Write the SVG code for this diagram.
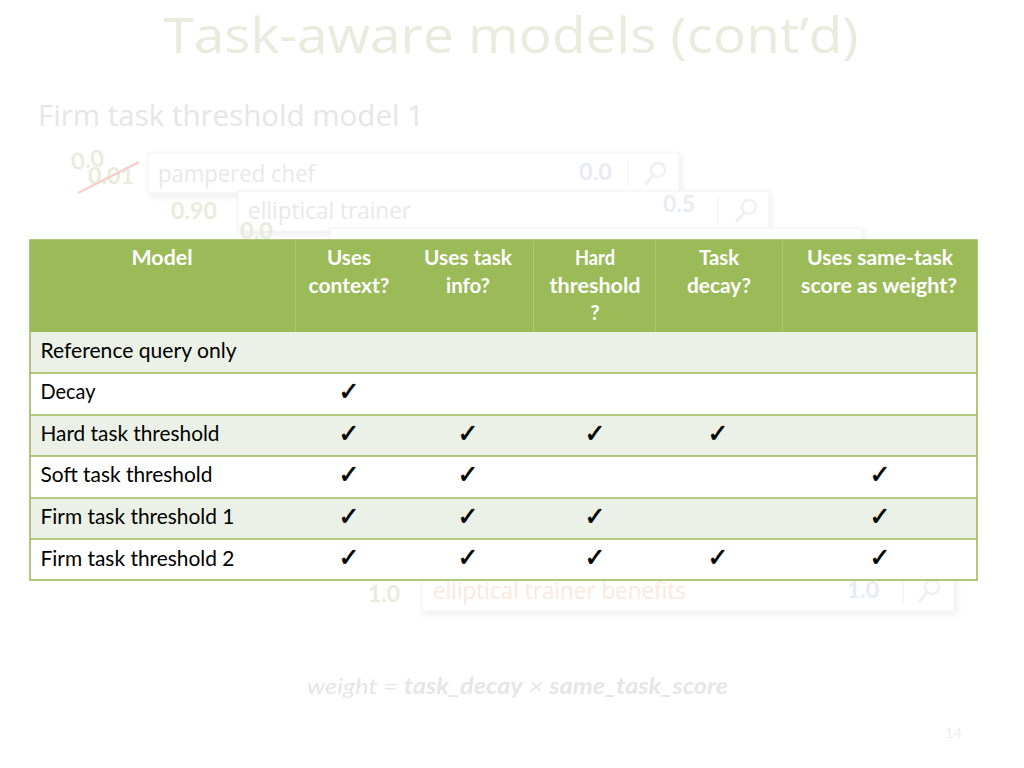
<svg xmlns="http://www.w3.org/2000/svg" width="1024" height="768" viewBox="0 0 1024 768">
<defs>
<filter id="sh" x="-5%" y="-20%" width="110%" height="150%"><feDropShadow dx="2" dy="3" stdDeviation="3" flood-color="#000" flood-opacity="0.07"/></filter>
<g id="mag"><path d="M-11 13L-3 4" stroke="#f0f0f0" stroke-width="3" fill="none"/><circle cx="2" cy="-2" r="7" fill="none" stroke="#f0f0f0" stroke-width="2.4"/></g>
</defs>
<style>
text{font-family:Lato,"Open Sans",sans-serif}
.box{fill:#fff;stroke:#f3f3f3;stroke-width:1.2;filter:url(#sh)}
.q{font-size:23px;fill:#e9e9e9;font-family:"Open Sans",sans-serif}
.w{font-size:23px;font-weight:700;fill:#e9ecdc}
.s{font-size:23px;font-weight:700;fill:#e6ebf5}
.sep{stroke:#f1f1f1;stroke-width:1.2}
.h{font-size:20.5px;font-weight:700;fill:#fff;text-anchor:middle}
.c{font-size:20.5px;fill:#000}
.k{font-family:"DejaVu Sans",sans-serif;font-size:25px;font-weight:700;fill:#000;stroke:#000;stroke-width:.7;text-anchor:middle}
.vl{stroke:#aec77c;stroke-width:1}
.hl{stroke:#9bbb59;stroke-width:1.6}
</style>
<rect width="1024" height="768" fill="#fff"/>
<text x="511" y="53" font-size="50" fill="#e9ebdd" text-anchor="middle" textLength="695" lengthAdjust="spacingAndGlyphs" style="font-family:'Open Sans',sans-serif">Task-aware models (cont’d)</text>
<text x="38" y="126" font-size="29" fill="#e6e6e6" textLength="386" lengthAdjust="spacingAndGlyphs" style="font-family:'Open Sans',sans-serif">Firm task threshold model 1</text>

<g id="query-1">
<rect class="box" x="148" y="153" width="531" height="40"/>
<text class="q" x="158" y="182" textLength="157" lengthAdjust="spacingAndGlyphs">pampered chef</text>
<text class="s" x="579" y="180" textLength="33" lengthAdjust="spacingAndGlyphs">0.0</text>
<line class="sep" x1="628" y1="160" x2="628" y2="185"/>
<use href="#mag" x="656" y="172"/>
<text class="w" x="71" y="168" textLength="33" lengthAdjust="spacingAndGlyphs" transform="rotate(-8 87 160)">0.0</text>
<text class="w" x="88" y="184" textLength="46" lengthAdjust="spacingAndGlyphs">0.01</text>
<line x1="78" y1="193" x2="139" y2="162" stroke="#f6cfcc" stroke-width="2.5"/>
</g>
<g id="query-2">
<rect class="box" x="238" y="191" width="531" height="40"/>
<text class="q" x="248" y="219" textLength="163" lengthAdjust="spacingAndGlyphs">elliptical trainer</text>
<text class="s" x="663" y="212" textLength="32" lengthAdjust="spacingAndGlyphs">0.5</text>
<line class="sep" x1="718" y1="198" x2="718" y2="223"/>
<use href="#mag" x="747" y="209"/>
<text class="w" x="171" y="219" textLength="46" lengthAdjust="spacingAndGlyphs">0.90</text>
</g>
<g id="query-3">
<text class="w" x="240" y="239" textLength="33" lengthAdjust="spacingAndGlyphs">0.0</text>
<rect class="box" x="330" y="228" width="532" height="30"/>
</g>
<g id="query-4">
<rect class="box" x="422" y="570" width="532" height="41"/>
<text class="q" x="433" y="599" style="fill:#fbe9dd" textLength="253" lengthAdjust="spacingAndGlyphs">elliptical trainer benefits</text>
<text class="s" x="847" y="598" textLength="32" lengthAdjust="spacingAndGlyphs">1.0</text>
<line class="sep" x1="903" y1="578" x2="903" y2="604"/>
<use href="#mag" x="930" y="589"/>
<text class="w" x="368" y="602" textLength="32" lengthAdjust="spacingAndGlyphs">1.0</text>
</g>

<g id="table">
<rect x="30" y="240" width="947" height="92" fill="#9bbb59"/>
<rect x="30" y="332" width="947" height="41" fill="#ebf1e6"/>
<rect x="30" y="373" width="947" height="42" fill="#fff"/>
<rect x="30" y="415" width="947" height="41" fill="#ebf1e6"/>
<rect x="30" y="456" width="947" height="42" fill="#fff"/>
<rect x="30" y="498" width="947" height="41" fill="#ebf1e6"/>
<rect x="30" y="539" width="947" height="41" fill="#fff"/>
<line class="vl" x1="295.500" y1="240" x2="295.500" y2="332"/>
<line class="vl" x1="533.500" y1="240" x2="533.500" y2="332"/>
<line class="vl" x1="655.500" y1="240" x2="655.500" y2="332"/>
<line class="vl" x1="782.500" y1="240" x2="782.500" y2="332"/>
<line class="hl" x1="30" y1="373" x2="977" y2="373"/>
<line class="hl" x1="30" y1="415" x2="977" y2="415"/>
<line class="hl" x1="30" y1="456" x2="977" y2="456"/>
<line class="hl" x1="30" y1="498" x2="977" y2="498"/>
<line class="hl" x1="30" y1="539" x2="977" y2="539"/>
<rect x="30" y="240" width="947" height="340" fill="none" stroke="#9bbb59" stroke-width="1.6"/>

<text class="h" x="162" y="265" textLength="61" lengthAdjust="spacingAndGlyphs">Model</text>
<text class="h" x="349" y="265" textLength="44" lengthAdjust="spacingAndGlyphs">Uses</text>
<text class="h" x="349" y="293" textLength="81" lengthAdjust="spacingAndGlyphs">context?</text>
<text class="h" x="468" y="265" textLength="88" lengthAdjust="spacingAndGlyphs">Uses task</text>
<text class="h" x="468" y="293" textLength="44" lengthAdjust="spacingAndGlyphs">info?</text>
<text class="h" x="595" y="265" textLength="40" lengthAdjust="spacingAndGlyphs">Hard</text>
<text class="h" x="595" y="293" textLength="91" lengthAdjust="spacingAndGlyphs">threshold</text>
<text class="h" x="595" y="320">?</text>
<text class="h" x="719" y="265" textLength="40" lengthAdjust="spacingAndGlyphs">Task</text>
<text class="h" x="719" y="293" textLength="64" lengthAdjust="spacingAndGlyphs">decay?</text>
<text class="h" x="880" y="265" textLength="146" lengthAdjust="spacingAndGlyphs">Uses same-task</text>
<text class="h" x="879" y="293" textLength="156" lengthAdjust="spacingAndGlyphs">score as weight?</text>

<text class="c" x="40.500" y="358" textLength="196" lengthAdjust="spacingAndGlyphs">Reference query only</text>
<text class="c" x="40.500" y="399" textLength="55" lengthAdjust="spacingAndGlyphs">Decay</text>
<text class="c" x="40.500" y="441" textLength="179" lengthAdjust="spacingAndGlyphs">Hard task threshold</text>
<text class="c" x="40.500" y="482" textLength="172" lengthAdjust="spacingAndGlyphs">Soft task threshold</text>
<text class="c" x="40.500" y="524" textLength="194" lengthAdjust="spacingAndGlyphs">Firm task threshold 1</text>
<text class="c" x="40.500" y="566" textLength="194" lengthAdjust="spacingAndGlyphs">Firm task threshold 2</text>

<text class="k" x="349" y="400">✓</text>
<text class="k" x="349" y="442">✓</text><text class="k" x="468" y="442">✓</text><text class="k" x="595" y="442">✓</text><text class="k" x="718" y="442">✓</text>
<text class="k" x="349" y="483">✓</text><text class="k" x="468" y="483">✓</text><text class="k" x="880" y="483">✓</text>
<text class="k" x="349" y="525">✓</text><text class="k" x="468" y="525">✓</text><text class="k" x="595" y="525">✓</text><text class="k" x="880" y="525">✓</text>
<text class="k" x="349" y="566">✓</text><text class="k" x="468" y="566">✓</text><text class="k" x="595" y="566">✓</text><text class="k" x="718" y="566">✓</text><text class="k" x="880" y="566">✓</text>
</g>

<text x="307" y="694" font-size="22" font-style="italic" fill="#e6e6e6" textLength="421" lengthAdjust="spacingAndGlyphs">weight = <tspan font-weight="700">task_decay</tspan> × <tspan font-weight="700">same_task_score</tspan></text>
<text x="945" y="738" font-size="14" fill="#eeeeee" textLength="17" lengthAdjust="spacingAndGlyphs">14</text>
</svg>
